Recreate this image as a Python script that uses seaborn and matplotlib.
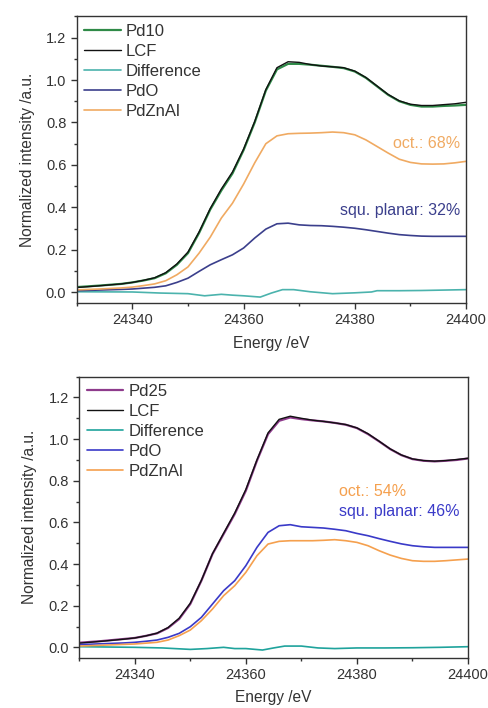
import matplotlib
matplotlib.use("Agg")
import matplotlib.pyplot as plt
import seaborn as sns
from matplotlib.ticker import MultipleLocator

# --- data (energy in eV, normalized intensity) ---
energy = [24330, 24334, 24338, 24340, 24342, 24344, 24346, 24348, 24350, 24352,
          24354, 24356, 24358, 24360, 24362, 24364, 24366, 24368, 24370, 24372,
          24374, 24376, 24378, 24380, 24382, 24384, 24386, 24388, 24390, 24392,
          24394, 24396, 24398, 24400]

# Pd10 panel
pd10 = [0.025, 0.032, 0.040, 0.047, 0.056, 0.067, 0.090, 0.130, 0.185, 0.280,
        0.390, 0.480, 0.560, 0.670, 0.800, 0.950, 1.050, 1.076, 1.076, 1.072,
        1.067, 1.062, 1.056, 1.040, 1.010, 0.970, 0.930, 0.900, 0.883, 0.875,
        0.875, 0.878, 0.880, 0.883]
lcf10 = [0.023, 0.031, 0.040, 0.047, 0.057, 0.069, 0.093, 0.134, 0.190, 0.285,
         0.395, 0.487, 0.567, 0.675, 0.805, 0.955, 1.058, 1.086, 1.083, 1.073,
         1.066, 1.062, 1.058, 1.042, 1.012, 0.972, 0.932, 0.902, 0.886, 0.880,
         0.880, 0.884, 0.888, 0.895]
pdo10 = [0.008, 0.011, 0.014, 0.016, 0.020, 0.024, 0.031, 0.047, 0.067, 0.099,
         0.130, 0.154, 0.177, 0.209, 0.256, 0.298, 0.323, 0.326, 0.318, 0.315,
         0.314, 0.311, 0.307, 0.302, 0.295, 0.287, 0.279, 0.272, 0.268, 0.265,
         0.264, 0.264, 0.264, 0.264]
pdznal10 = [0.012, 0.016, 0.021, 0.025, 0.032, 0.040, 0.055, 0.083, 0.120, 0.185,
            0.260, 0.350, 0.420, 0.510, 0.610, 0.700, 0.737, 0.747, 0.749, 0.750,
            0.752, 0.755, 0.752, 0.742, 0.718, 0.687, 0.656, 0.627, 0.612, 0.605,
            0.604, 0.605, 0.610, 0.617]
diff_e10 = [24330, 24340, 24345, 24350, 24353, 24356, 24358, 24360, 24363, 24365,
            24367, 24369, 24372, 24376, 24380, 24383, 24384, 24388, 24392, 24396, 24400]
diff10 = [0.003, 0.002, -0.003, -0.006, -0.016, -0.009, -0.013, -0.016, -0.022, -0.003,
          0.013, 0.013, 0.003, -0.006, -0.002, 0.002, 0.008, 0.008, 0.009, 0.011, 0.013]

# Pd25 panel
pd25 = [0.022, 0.030, 0.040, 0.045, 0.055, 0.067, 0.093, 0.136, 0.208, 0.320,
        0.448, 0.544, 0.640, 0.752, 0.896, 1.024, 1.088, 1.104, 1.096, 1.090,
        1.085, 1.078, 1.069, 1.053, 1.024, 0.989, 0.952, 0.923, 0.904, 0.896,
        0.893, 0.896, 0.900, 0.907]
lcf25 = [0.020, 0.029, 0.039, 0.045, 0.055, 0.068, 0.095, 0.140, 0.212, 0.322,
         0.450, 0.548, 0.645, 0.758, 0.900, 1.030, 1.095, 1.110, 1.100, 1.091,
         1.085, 1.078, 1.070, 1.054, 1.026, 0.990, 0.953, 0.924, 0.905, 0.897,
         0.894, 0.897, 0.902, 0.908]
pdo25 = [0.013, 0.017, 0.021, 0.024, 0.029, 0.035, 0.048, 0.067, 0.099, 0.144,
         0.208, 0.272, 0.320, 0.392, 0.480, 0.552, 0.584, 0.589, 0.579, 0.576,
         0.573, 0.567, 0.560, 0.547, 0.536, 0.522, 0.509, 0.497, 0.488, 0.483,
         0.480, 0.480, 0.480, 0.480]
pdznal25 = [0.006, 0.010, 0.014, 0.016, 0.020, 0.024, 0.035, 0.056, 0.083, 0.128,
            0.184, 0.248, 0.296, 0.360, 0.440, 0.496, 0.509, 0.512, 0.512, 0.512,
            0.514, 0.517, 0.512, 0.504, 0.488, 0.464, 0.443, 0.427, 0.416, 0.413,
            0.413, 0.416, 0.420, 0.424]
diff_e25 = [24330, 24340, 24345, 24350, 24353, 24356, 24358, 24360, 24363, 24365,
            24367, 24370, 24373, 24376, 24380, 24385, 24390, 24395, 24400]
diff25 = [0.003, 0.000, -0.003, -0.010, -0.006, 0.000, -0.006, -0.006, -0.013, -0.003,
          0.006, 0.006, -0.003, -0.006, -0.003, -0.003, -0.002, 0.000, 0.003]

sns.set_theme(style="ticks")
plt.rcParams['font.family'] = ['Liberation Sans', 'DejaVu Sans']

fig = plt.figure(figsize=(4.89, 7.08), dpi=100)
ax1 = fig.add_axes([0.157, 0.572, 0.796, 0.405])
ax2 = fig.add_axes([0.162, 0.071, 0.795, 0.397])

panels = [
    (ax1, "Pd10", pd10, lcf10, diff_e10, diff10, pdo10, pdznal10,
     "#2f8a48", "#4bb3ad", "#3b3f8c", "#f0aa62"),
    (ax2, "Pd25", pd25, lcf25, diff_e25, diff25, pdo25, pdznal25,
     "#8e3b8c", "#1fa39c", "#3a3ac8", "#f5a04e"),
]

for ax, name, samp, lcf, de, diff, pdo, pdz, c_s, c_d, c_o, c_z in panels:
    sns.lineplot(x=energy, y=samp, ax=ax, color=c_s, lw=1.6, label=name)
    sns.lineplot(x=energy, y=lcf, ax=ax, color="#111111", lw=1.0, label="LCF")
    sns.lineplot(x=de, y=diff, ax=ax, color=c_d, lw=1.2, label="Difference")
    sns.lineplot(x=energy, y=pdo, ax=ax, color=c_o, lw=1.2, label="PdO")
    sns.lineplot(x=energy, y=pdz, ax=ax, color=c_z, lw=1.2, label="PdZnAl")

    ax.set_xlim(24330, 24400)
    ax.set_ylim(-0.05, 1.3)
    ax.xaxis.set_major_locator(MultipleLocator(20))
    ax.xaxis.set_minor_locator(MultipleLocator(10))
    ax.yaxis.set_major_locator(MultipleLocator(0.2))
    ax.yaxis.set_minor_locator(MultipleLocator(0.1))
    ax.yaxis.set_major_formatter(plt.FormatStrFormatter('%.1f'))
    ax.tick_params(which="major", direction="out", length=4, width=1,
                   labelsize=10.5, colors="#333333")
    ax.tick_params(which="minor", direction="out", length=2.5, width=1,
                   colors="#333333")
    for sp in ax.spines.values():
        sp.set_visible(True)
        sp.set_color("#333333")
        sp.set_linewidth(1.0)
    ax.set_xlabel("Energy /eV", fontsize=11.2, color="#333333", labelpad=6)
    ax.set_ylabel("Normalized intensity /a.u.", fontsize=11.2, color="#333333",
                  labelpad=8)
    leg = ax.legend(loc="upper left", frameon=False, fontsize=12,
                    handlelength=2.2, handletextpad=0.3, labelspacing=0.3,
                    borderaxespad=0.4, borderpad=0.05)
    for t in leg.get_texts():
        t.set_color("#333333")

ax1.text(24399, 0.70, "oct.: 68%", color="#f0aa62", fontsize=11.5,
         ha="right", va="center")
ax1.text(24399, 0.386, "squ. planar: 32%", color="#3b3f8c", fontsize=11.5,
         ha="right", va="center")
ax2.text(24376.8, 0.749, "oct.: 54%", color="#f5a04e", fontsize=11.5,
         ha="left", va="center")
ax2.text(24376.8, 0.653, "squ. planar: 46%", color="#3a3ac8", fontsize=11.5,
         ha="left", va="center")

fig.savefig("out.png", dpi=100)
